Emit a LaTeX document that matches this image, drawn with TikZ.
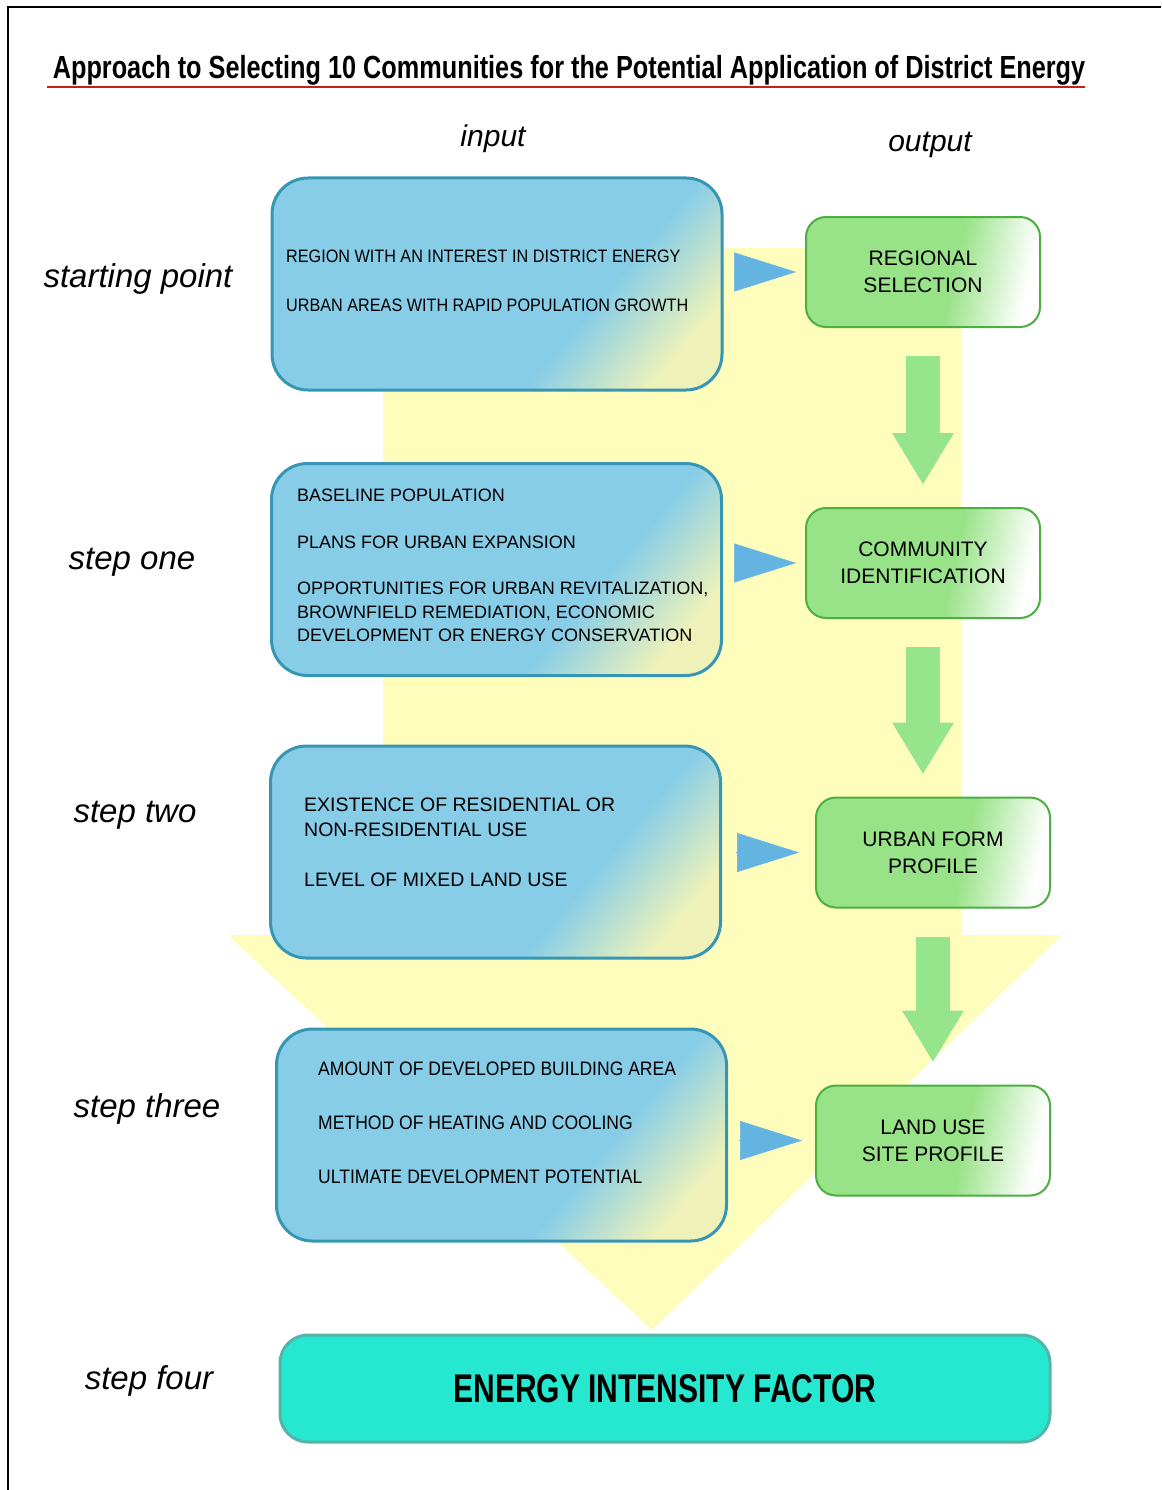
\documentclass[tikz,border=0pt]{standalone}
\usepackage{fontspec}
\setmainfont{Liberation Sans}
\newfontfamily\titlefont{Liberation Sans}[FakeStretch=0.79]
\newfontfamily\narrowfont{Liberation Sans}[FakeStretch=0.9]
\newfontfamily\finalfont{Liberation Sans}[FakeStretch=0.75]
\usetikzlibrary{arrows.meta,positioning,calc}

\definecolor{inblue}{RGB}{135,205,232}
\definecolor{inedge}{RGB}{55,150,180}
\definecolor{fadeyel}{RGB}{238,242,185}
\definecolor{outgreen}{RGB}{152,226,135}
\definecolor{outedge}{RGB}{75,175,65}
\definecolor{downgreen}{RGB}{150,228,140}
\definecolor{tipblue}{RGB}{100,180,225}
\definecolor{bgyel}{RGB}{255,253,188}
\definecolor{finalfill}{RGB}{38,232,208}
\definecolor{finaledge}{RGB}{85,180,170}
\definecolor{titlered}{RGB}{200,30,30}

\pgfdeclarehorizontalshading{infade}{100bp}{color(0bp)=(inblue); color(63bp)=(inblue); color(77bp)=(fadeyel); color(100bp)=(fadeyel)}
\pgfdeclarehorizontalshading{outfade}{100bp}{color(0bp)=(outgreen); color(57bp)=(outgreen); color(75bp)=(white); color(100bp)=(white)}

\begin{document}
\begin{tikzpicture}[x=1pt,y=-1pt,
  every node/.style={inner sep=0pt},
  inbox/.style={draw=inedge,line width=3pt,rounded corners=36pt,minimum width=450pt,minimum height=212pt,shading=infade,shading angle=-40},
  intext/.style={anchor=base west,align=left},
  outbox/.style={draw=outedge,line width=2pt,rounded corners=20pt,minimum width=234pt,minimum height=110pt,shading=outfade,shading angle=-12,align=center,font=\fontsize{21}{27}\selectfont},
  final/.style={draw=finaledge,line width=3pt,fill=finalfill,rounded corners=28pt,minimum width=770pt,minimum height=107pt,font=\finalfont\bfseries\fontsize{40}{48}\selectfont},
  steplbl/.style={font=\fontsize{33}{40}\selectfont\itshape},
  colhead/.style={font=\fontsize{30}{36}\selectfont\itshape},
  tipline/.style={-{Triangle[length=62pt,width=39pt]},tipblue,line width=0.5pt},
  downarrow/.style={-{Triangle[length=52pt,width=58pt]},downgreen,line width=34pt,shorten <=28pt,shorten >=22pt}]
\useasboundingbox (0,0) rectangle (1161,1490);
% frame and title
\draw[line width=2pt] (8,1490) -- (8,7) -- (1161,7);
\node[font=\titlefont\bfseries\fontsize{32}{38}\selectfont] (title) at (569,70) {Approach to Selecting 10 Communities for the Potential Application of District Energy};
\draw[titlered,line width=1.5pt] (47,87) -- (1085,87);
% big yellow arrow behind
\fill[bgyel] (383,248) -- (962,248) -- (962,935) -- (1062,935) -- (652,1330) -- (228,935) -- (383,935) -- cycle;
\node[colhead] (hin) at (493,139) {input};
\node[colhead] (hout) at (930,145) {output};
\node[steplbl] (s0) at (138,279) {starting point};
\node[steplbl] (s1) at (132,562) {step one};
\node[steplbl] (s2) at (135,815) {step two};
\node[steplbl] (s3) at (147,1109) {step three};
\node[steplbl] (s4) at (149,1381) {step four};
% input boxes
\node[inbox] (in1) at (497,284) {};
\node[inbox] (in2) at (496.5,569.5) {};
\node[inbox] (in3) at (495.5,852) {};
\node[inbox] (in4) at (501.5,1135) {};
\node[intext,font=\narrowfont\fontsize{18}{49}\selectfont] (r1) at (286,311.5) {REGION WITH AN INTEREST IN DISTRICT ENERGY\\URBAN AREAS WITH RAPID POPULATION GROWTH};
\node[intext,font=\fontsize{18}{23.3}\selectfont] (r2) at (297,641.5) {BASELINE POPULATION\\[23.3pt]PLANS FOR URBAN EXPANSION\\[23.3pt]OPPORTUNITIES FOR URBAN REVITALIZATION,\\BROWNFIELD REMEDIATION, ECONOMIC\\DEVELOPMENT OR ENERGY CONSERVATION};
\node[intext,font=\fontsize{19.5}{25}\selectfont] (r3) at (304,886) {EXISTENCE OF RESIDENTIAL OR\\NON-RESIDENTIAL USE\\[25pt]LEVEL OF MIXED LAND USE};
\node[intext,font=\narrowfont\fontsize{19.5}{54}\selectfont] (r4) at (318,1183.5) {AMOUNT OF DEVELOPED BUILDING AREA\\METHOD OF HEATING AND COOLING\\ULTIMATE DEVELOPMENT POTENTIAL};
% output boxes
\node[outbox] (out1) at (923,272) {REGIONAL\\SELECTION};
\node[outbox] (out2) at (923,563) {COMMUNITY\\IDENTIFICATION};
\node[outbox] (out3) at (933,852.5) {URBAN FORM\\PROFILE};
\node[outbox] (out4) at (933,1140.5) {LAND USE\\SITE PROFILE};
\node[final] (energy) at (665,1388.5) {ENERGY INTENSITY FACTOR};
% arrows
\foreach \i/\a/\b in {1/11/9,2/11/9,3/14/16,4/11/13}
  \draw[tipline,shorten <=\a pt,shorten >=\b pt] (in\i.east |- out\i.west) -- (out\i.west);
\foreach \a/\b in {out1/out2,out2/out3,out3/out4}
  \draw[downarrow] (\a) -- (\a |- \b.north);
\end{tikzpicture}
\end{document}
